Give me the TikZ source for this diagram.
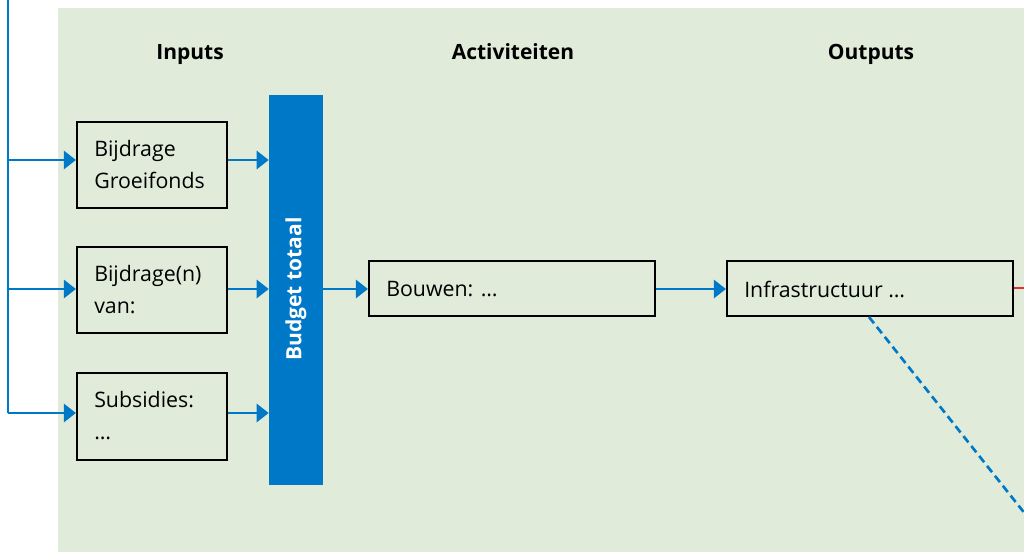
\documentclass[tikz,border=0pt]{standalone}
\usepackage{fontspec}
\setmainfont{Open Sans}
\usetikzlibrary{arrows.meta}
\definecolor{bggreen}{RGB}{224,235,218}
\definecolor{rblue}{RGB}{0,120,200}
\definecolor{rred}{RGB}{220,50,40}
\tikzset{
  inbox/.style={draw=black,line width=1.6pt,minimum width=112.5pt,inner sep=0pt},
  widebox/.style={draw=black,line width=1.6pt,minimum width=214.5pt,minimum height=41.25pt,inner sep=0pt},
  boxtext/.style={anchor=west,align=left,font=\fontsize{16}{24}\selectfont,inner sep=0pt},
  head/.style={anchor=base,font=\fontsize{15.75}{18}\selectfont\bfseries},
  flow/.style={draw=rblue,line width=2pt,-{Triangle[length=9pt,width=13.5pt]}},
}
\begin{document}
\begin{tikzpicture}[x=0.75pt,y=-0.75pt]
\useasboundingbox (0,0) rectangle (1024,552);
\fill[bggreen] (58,8) rectangle (1030,560);
% headers
\node[head] (hin) at (190,60) {Inputs};
\node[head] (hact) at (513,60) {Activiteiten};
\node[head] (hout) at (871,60) {Outputs};
% input boxes
\node[inbox,minimum height=64.5pt] (b1) at (152,165) {};
\node[inbox,minimum height=64.5pt] (b2) at (152,290) {};
\node[inbox,minimum height=65.25pt] (b3) at (152,416.5) {};
\node[boxtext] (t1) at (94,165) {Bijdrage\\Groeifonds};
\node[boxtext] (t2) at (94,290) {Bijdrage(n)\\van:};
\node[boxtext] (t3) at (94,416) {Subsidies:\\…};
% budget bar
\node[fill=rblue,minimum width=40.5pt,minimum height=292.5pt,inner sep=0pt] (bar) at (296,290) {};
\node[rotate=90,text=white,font=\fontsize{15.75}{18}\selectfont\bfseries] (bart) at (296,289) {Budget totaal};
% activity and output
\node[widebox] (act) at (512,288.5) {};
\node[boxtext] (actt) at (386,289) {Bouwen: …};
\node[widebox] (out) at (870,288.5) {};
\node[boxtext] (outt) at (744,289) {Infrastructuur …};
% left feeder
\coordinate (top) at (8,-2);
\coordinate (j1) at (8,160);
\coordinate (j2) at (8,289);
\coordinate (j3) at (8,413);
\draw[rblue,line width=2pt] (top) -- (j3);
\draw[flow] (j1) -- (j1 -| b1.west);
\draw[flow] (j2) -- (j2 -| b2.west);
\draw[flow] (j3) -- (j3 -| b3.west);
% inputs to bar
\draw[flow] (b1.east |- j1) -- (bar.west |- j1);
\draw[flow] (b2.east |- j2) -- (bar.west |- j2);
\draw[flow] (b3.east |- j3) -- (bar.west |- j3);
% bar to activity to output
\draw[flow] (bar.east |- j2) -- (act.west |- j2);
\draw[flow] (act.east |- j2) -- (out.west |- j2);
% red continuation
\coordinate (rend) at (1030,288);
\draw[rred,line width=2pt] (out.east |- rend) -- (rend);
% dashed link
\coordinate (dstart) at (869,317);
\coordinate (dend) at (1026,515);
\draw[rblue,line width=2pt,dash pattern=on 6pt off 3.5pt] (dstart) -- (dend);
\end{tikzpicture}
\end{document}
